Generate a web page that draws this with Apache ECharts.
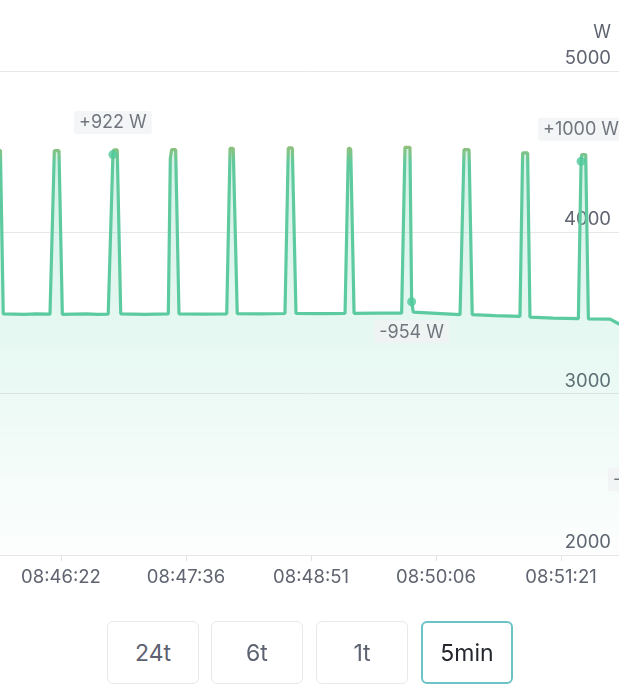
<!DOCTYPE html>
<html>
<head>
<meta charset="utf-8">
<script src="https://cdn.jsdelivr.net/npm/echarts@6/dist/echarts.min.js"></script>
<style>
  html, body { margin: 0; padding: 0; background: #ffffff; }
  #wrap { position: relative; width: 619px; height: 700px; overflow: hidden; }
  #chart { position: absolute; left: 0; top: 0; width: 619px; height: 700px; }
  .btn { position: absolute; top: 621px; width: 92px; height: 63px; box-sizing: border-box;
         border: 1.5px solid #e7e8ea; border-radius: 6px; background: #fff;
         font-family: Inter, "Noto Sans", sans-serif; font-size: 23px; color: #5d6270;
         display: flex; align-items: center; justify-content: center; }
  .btn.sel { border: 2px solid #6cc3c6; color: #23262c; }
</style>
</head>
<body>
<div id="wrap">
  <div id="chart"></div>
  <div id="buttons"></div>
</div>
<script>
// ---- data (seconds after 08:46:22, watts) ----
const powerTimes = [
  -74.9, -60, -45, -40.1, -38.3, -36.3, -34.6, -22, -15,
  -6.6, -4.0, -1.2, 0.8, 15, 22,
  28.3, 31.1, 31.6, 33.7, 35.8, 50,
  64.3, 65.5, 66.3, 68.7, 70.7, 85,
  99.3, 101.3, 103.2, 105.6, 120,
  134.2, 136.2, 138.6, 140.8, 155,
  170.2, 172.2, 173.6, 175.6, 190,
  204.1, 206.1, 209.1, 210.1, 211.1, 225,
  239.1, 241.5, 244.5, 246.4, 260,
  275.0, 276.6, 279.6, 281.0, 295,
  310.0, 311.6, 312.0, 314.4, 316.0, 329.0,
  334.4, 340.9, 349.3, 371
];
const powerValues = [
  3495, 3492, 3494, 3494, 4506, 4508, 3494, 3491, 3495,
  3493, 4506, 4506, 3492, 3495, 3491,
  3493, 4482, 4511, 4511, 3494, 3492,
  3494, 4457, 4513, 4513, 3495, 3493,
  3495, 4521, 4521, 3496, 3494,
  3497, 4523, 4523, 3497, 3496,
  3498, 4523, 4515, 3498, 3499,
  3499, 4527, 4527, 3570, 3505, 3498,
  3490, 4513, 4513, 3490, 3484,
  3479, 4492, 4492, 3475, 3468,
  3465, 4440, 4482, 4482, 3463, 3462,
  3432, 3390, 2653, 2650
];
const markerTimes  = [31.1, 210.1, 311.6, 349.3];
const markerValues = [4482, 3570, 4440, 2653];
const markerLabels = ['+922 W', '-954 W', '+1000 W', '-737 W'];

const xTickInterval = 74.9;
const xTickLabels = ['08:46:22', '08:47:36', '08:48:51', '08:50:06', '08:51:21'];
const yTicks = [2000, 3000, 4000, 5000];
const yUnit = 'W';
const rangeButtons = ['24t', '6t', '1t', '5min'];
const selectedRange = '5min';

// ---- buttons ----
const btnLefts = [107, 211, 316, 421];
const bc = document.getElementById('buttons');
rangeButtons.forEach((b, i) => {
  const d = document.createElement('div');
  d.className = 'btn' + (b === selectedRange ? ' sel' : '');
  d.style.left = btnLefts[i] + 'px';
  d.textContent = b;
  bc.appendChild(d);
});

// ---- chart ----
const FONT = 'Inter, "Noto Sans", sans-serif';
const chart = echarts.init(document.getElementById('chart'), null, { renderer: 'canvas' });
const lineData = powerTimes.map((t, i) => [t, powerValues[i]]);
const markData = markerTimes.map((t, i) => {
  const up = markerLabels[i].charAt(0) === '+';
  return {
    value: [t, markerValues[i]],
    label: { position: up ? 'top' : 'bottom', distance: up ? 16 : 14 }
  };
});

chart.setOption({
  animation: false,
  title: {
    text: yUnit, right: 8, top: 24, padding: 0,
    textStyle: { fontSize: 18, fontWeight: 'normal', color: '#5f6470', fontFamily: FONT }
  },
  grid: { left: -64, right: -60, top: 71, bottom: 145, containLabel: false, outerBoundsMode: 'none' },
  xAxis: {
    type: 'value',
    min: -xTickInterval,
    max: 370.3,
    interval: xTickInterval,
    axisLine: { show: true, lineStyle: { color: '#e6e6e6', width: 1 } },
    axisTick: { show: true, length: 6, lineStyle: { color: '#e3e3e3' } },
    splitLine: { show: false },
    axisLabel: {
      showMinLabel: false, showMaxLabel: false,
      margin: 13, fontSize: 18.5, color: '#5f6470', fontFamily: FONT,
      formatter: v => {
        const idx = Math.round(v / xTickInterval);
        return xTickLabels[idx] !== undefined ? xTickLabels[idx] : '';
      }
    }
  },
  yAxis: {
    type: 'value',
    position: 'right',
    min: yTicks[0],
    max: yTicks[yTicks.length - 1],
    interval: yTicks[1] - yTicks[0],
    axisLine: { show: false },
    axisTick: { show: false },
    splitLine: { show: true, lineStyle: { color: '#e8e8e8', width: 1 } },
    axisLabel: {
      inside: true, margin: 68, fontSize: 18.5, color: '#5f6470', fontFamily: FONT,
      verticalAlign: 'bottom', padding: [0, 0, 3, 0],
      formatter: v => String(v)
    }
  },
  series: [
    {
      type: 'line',
      data: lineData,
      showSymbol: false,
      symbol: 'none',
      lineStyle: {
        width: 3.2,
        color: new echarts.graphic.LinearGradient(0, 0, 0, 1, [
          { offset: 0, color: '#95bf78' },
          { offset: 0.06, color: '#60ca9e' },
          { offset: 1, color: '#58cba2' }
        ])
      },
      areaStyle: {
        color: new echarts.graphic.LinearGradient(0, 0, 0, 1, [
          { offset: 0, color: 'rgba(80,204,162,0.36)' },
          { offset: 1, color: 'rgba(80,204,162,0.02)' }
        ])
      },
      z: 2
    },
    {
      type: 'scatter',
      data: markData,
      symbol: 'circle',
      symbolSize: 9,
      itemStyle: { color: '#4fc99c' },
      label: {
        show: true,
        formatter: p => markerLabels[p.dataIndex],
        fontSize: 18, color: '#50555f', fontFamily: FONT,
        backgroundColor: '#f1f2f4', padding: [3, 5, 2, 5], borderRadius: 3
      },
      z: 3
    }
  ]
});
</script>
</body>
</html>
